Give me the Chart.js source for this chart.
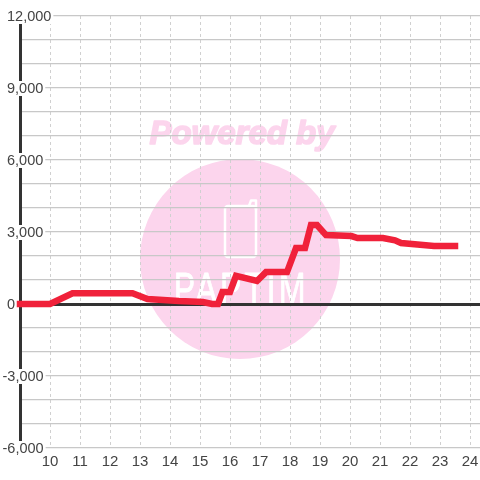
<!DOCTYPE html>
<html><head><meta charset="utf-8">
<style>html,body{margin:0;padding:0;background:#fff}canvas{display:block}</style>
<script src="https://cdn.jsdelivr.net/npm/chart.js@4"></script></head>
<body><div style="width:480px;height:480px"><canvas id="c" width="480" height="480"></canvas></div>
<script>
const hours = [9,10,10.75,12.75,13.25,14.3,15.1,15.4,15.6,15.75,16,16.2,16.9,17.2,17.9,18.2,18.5,18.7,18.9,19.2,20.05,20.25,21.1,21.5,21.7,22.8,23.5];
const values = [0,0,450,450,210,125,85,0,0,500,500,1170,960,1330,1330,2330,2330,3290,3290,2870,2830,2750,2750,2650,2540,2420,2420];
const yTickLabels = [-6000,-3000,0,3000,6000,9000,12000];
const xTicks = [10,11,12,13,14,15,16,17,18,19,20,21,22,23,24];
const fmt = v => v.toLocaleString('en-US');
const FONT = '"Liberation Sans", Arial, sans-serif';

const watermark = {
  id:'watermark',
  beforeDraw(c){
    const g=c.ctx; g.save();
    g.fillStyle='#fcd5ed'; g.strokeStyle='#fcd5ed';
    g.beginPath(); g.arc(240,259,100,0,Math.PI*2); g.fill();
    g.font='italic bold 33px "Liberation Sans", sans-serif';
    g.textAlign='center'; g.textBaseline='middle';
    g.lineWidth=1.6; g.lineJoin='round';
    g.fillText('Powered by',242,135);
    g.strokeText('Powered by',242,135);
    g.strokeStyle='#fff'; g.lineWidth=2.5;
    g.beginPath(); g.roundRect(225,206,31,51,3); g.stroke();
    g.beginPath(); g.moveTo(249,206); g.lineTo(251,200.5); g.lineTo(256,200.5); g.lineTo(256,210); g.stroke();
    g.fillStyle='#fff';
    g.textBaseline='alphabetic';
    g.translate(241,304); g.scale(.73,1);
    g.font='44px "Liberation Sans", sans-serif';
    g.letterSpacing='4px';
    g.lineWidth=0.8;
    g.fillText('PAPTIM',0,0);
    g.strokeText('PAPTIM',0,0);
    g.restore();
  }
};
const labelsAndAxis = {
  id:'labelsAndAxis',
  beforeDatasetsDraw(c){
    const g=c.ctx, y=c.scales.y; g.save();
    g.strokeStyle='#333'; g.lineWidth=3;
    g.beginPath(); g.moveTo(20.5,y.top); g.lineTo(20.5,y.bottom); g.stroke();
    g.font='14.5px '+FONT; g.textAlign='left'; g.textBaseline='middle';
    yTickLabels.forEach(v=>{
      const t=fmt(v), py=y.getPixelForValue(v), w=g.measureText(t).width;
      const lx = v<0 ? 2.5 : 7;
      g.fillStyle='#fff'; g.fillRect(0,py-7,lx+w+2,15);
      g.fillStyle='#444'; g.fillText(t,lx,py+1);
    });
    g.restore();
  }
};
new Chart(document.getElementById('c'),{
  type:'line',
  data:{datasets:[{data:hours.map((h,i)=>({x:h,y:values[i]})),borderColor:'#f0213a',borderWidth:6.5,pointRadius:0,tension:0,borderJoinStyle:'miter',borderCapStyle:'square',clip:false}]},
  options:{
    responsive:false,animation:false,
    layout:{autoPadding:false,padding:{top:16,left:0,right:0,bottom:0}},
    plugins:{legend:{display:false},tooltip:{enabled:false}},
    scales:{
      x:{type:'linear',position:'bottom',min:9,max:24.3333,
        afterFit(a){a.height=32;a.paddingLeft=0;a.paddingRight=0},
        afterBuildTicks(a){a.ticks=xTicks.map(v=>({value:v}))},
        ticks:{autoSkip:false,maxRotation:0,color:'#444',font:{size:15,family:FONT},padding:5,callback:v=>String(v)},
        grid:{color:'#d0d0d0',lineWidth:1,drawTicks:false},
        border:{display:false,dash:[3,3]}
      },
      y:{min:-6000,max:12000,
        afterFit(a){a.width=20;a.paddingTop=0;a.paddingBottom=0},
        afterBuildTicks(a){const t=[];for(let v=-6000;v<=12000;v+=1000)t.push({value:v});a.ticks=t},
        ticks:{display:false},
        grid:{color:c=>c.tick.value===0?'#333':'#c8c8c8',lineWidth:c=>c.tick.value===0?3:1.2,drawTicks:false},
        border:{display:false}
      }
    }
  },
  plugins:[watermark,labelsAndAxis]
});
</script></body></html>
